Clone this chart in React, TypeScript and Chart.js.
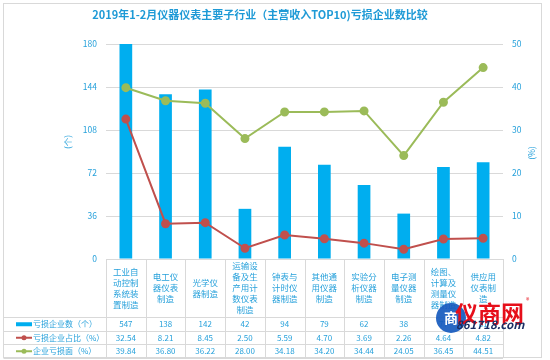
import React, { useEffect, useRef } from "react";
import { Chart, registerables } from "chart.js";

Chart.register(...registerables);

const TITLE = "2019年1-2月仪器仪表主要子行业（主营收入TOP10)亏损企业数比较";
const categories = [
  "工业自动控制系统装置制造",
  "电工仪器仪表制造",
  "光学仪器制造",
  "运输设备及生产用计数仪表制造",
  "钟表与计时仪器制造",
  "其他通用仪器制造",
  "实验分析仪器制造",
  "电子测量仪器制造",
  "绘图、计算及测量仪器制造",
  "供应用仪表制造",
];
const seriesNames = ["亏损企业数（个）", "亏损企业占比（%）", "企业亏损面（%）"];
const lossCount = [547, 138, 142, 42, 94, 79, 62, 38, 77, 81];
const lossShare = [32.54, 8.21, 8.45, 2.5, 5.59, 4.7, 3.69, 2.26, 4.64, 4.82];
const lossRate = [39.84, 36.8, 36.22, 28.0, 34.18, 34.2, 34.44, 24.05, 36.45, 44.51];
const leftTicks = [0, 36, 72, 108, 144, 180];
const rightTicks = [0, 10, 20, 30, 40, 50];
const leftAxisTitle = "(个)";
const rightAxisTitle = "(%)";

const FONT = '"Noto Sans CJK SC", "Noto Sans", sans-serif';
const BLUE_TEXT = "#27a1db";
const BAR = "#00aeef";
const RED = "#c0504d";
const GREEN = "#9bbb59";
const GRID = "#d9d9d9";

function wrap3(s: string): string[] {
  const out: string[] = [];
  const chars = Array.from(s);
  for (let i = 0; i < chars.length; i += 3) out.push(chars.slice(i, i + 3).join(""));
  return out;
}

const tablePlugin = {
  id: "dataTable",
  afterDraw(chart: any) {
    const ctx = chart.ctx as CanvasRenderingContext2D;
    const ca = chart.chartArea;
    const xs = chart.scales.x;
    const n = categories.length;
    const colW = (ca.right - ca.left) / n;
    const headTop = ca.bottom;
    const headBottom = 317;
    const rowH = 13.5;
    const tableBottom = headBottom + rowH * 3;
    ctx.save();
    ctx.strokeStyle = GRID;
    ctx.lineWidth = 1;
    ctx.strokeRect(3.5, 3.5, 538, 354);
    ctx.beginPath();
    for (let i = 0; i <= n; i++) {
      const x = Math.round(ca.left + i * colW) + 0.5;
      ctx.moveTo(x, headTop);
      ctx.lineTo(x, tableBottom);
    }
    for (let r = 0; r < 4; r++) {
      const y = Math.round(headBottom + r * rowH) + 0.5;
      ctx.moveTo(3.5, y);
      ctx.lineTo(ca.right, y);
    }
    ctx.stroke();

    ctx.fillStyle = BLUE_TEXT;
    ctx.textAlign = "center";
    ctx.textBaseline = "middle";
    ctx.font = `8.5px ${FONT}`;
    const midHead = (headTop + headBottom) / 2;
    categories.forEach((c, i) => {
      const lines = wrap3(c);
      const cx = xs.getPixelForValue(i);
      const lh = 11;
      const y0 = midHead - ((lines.length - 1) * lh) / 2;
      lines.forEach((ln, k) => ctx.fillText(ln, cx, y0 + k * lh));
    });

    const rows = [
      lossCount.map((v) => String(v)),
      lossShare.map((v) => v.toFixed(2)),
      lossRate.map((v) => v.toFixed(2)),
    ];
    ctx.font = `8px ${FONT}`;
    rows.forEach((vals, r) => {
      const cy = headBottom + rowH * r + rowH / 2 + 0.5;
      vals.forEach((v, i) => ctx.fillText(v, xs.getPixelForValue(i), cy));
    });

    ctx.textAlign = "left";
    ctx.font = `8px ${FONT}`;
    const colors = [BAR, RED, GREEN];
    seriesNames.forEach((name, r) => {
      const cy = headBottom + rowH * r + rowH / 2 + 0.5;
      if (r === 0) {
        ctx.fillStyle = BAR;
        ctx.fillRect(16, cy - 2, 16, 4);
      } else {
        ctx.strokeStyle = colors[r];
        ctx.lineWidth = 2;
        ctx.beginPath();
        ctx.moveTo(16, cy);
        ctx.lineTo(32, cy);
        ctx.stroke();
        ctx.fillStyle = colors[r];
        ctx.beginPath();
        ctx.arc(24, cy, 2.5, 0, Math.PI * 2);
        ctx.fill();
      }
      ctx.fillStyle = BLUE_TEXT;
      ctx.fillText(name, 33, cy);
    });

    ctx.textAlign = "center";
    ctx.font = `8.5px ${FONT}`;
    ctx.save();
    ctx.translate(68, 142);
    ctx.rotate(-Math.PI / 2);
    ctx.fillText(leftAxisTitle, 0, 0);
    ctx.restore();
    ctx.save();
    ctx.translate(532, 153);
    ctx.rotate(-Math.PI / 2);
    ctx.fillText(rightAxisTitle, 0, 0);
    ctx.restore();

    ctx.fillStyle = "#1e9ad6";
    ctx.font = `bold 11px ${FONT}`;
    ctx.fillText(TITLE, 260, 15);

    // watermark
    ctx.fillStyle = "rgba(22, 90, 190, 0.92)";
    ctx.beginPath();
    ctx.arc(451, 318, 15, 0, Math.PI * 2);
    ctx.fill();
    ctx.fillStyle = "#ffffff";
    ctx.font = `bold 14px ${FONT}`;
    ctx.fillText("商", 451, 318);
    ctx.fillStyle = "#e60f1a";
    ctx.font = `bold 23px ${FONT}`;
    ctx.textAlign = "left";
    ctx.fillText("仪商网", 455, 313);
    ctx.font = `7px ${FONT}`;
    ctx.fillText("®", 526, 300);
    ctx.fillStyle = "#1b2d63";
    ctx.font = `italic bold 11.5px ${FONT}`;
    ctx.fillText("861718.com", 456, 325);
    ctx.restore();
  },
};

export default function App() {
  const ref = useRef<HTMLCanvasElement | null>(null);
  useEffect(() => {
    if (!ref.current) return;
    Chart.defaults.font.family = FONT;
    const chart = new Chart(ref.current, {
      data: {
        labels: categories,
        datasets: [
          {
            type: "line",
            label: seriesNames[1],
            data: lossShare,
            yAxisID: "y1",
            borderColor: RED,
            backgroundColor: RED,
            pointBackgroundColor: RED,
            pointBorderColor: RED,
            borderWidth: 2,
            pointRadius: 3.5,
            tension: 0,
            order: 1,
          },
          {
            type: "line",
            label: seriesNames[2],
            data: lossRate,
            yAxisID: "y1",
            borderColor: GREEN,
            backgroundColor: GREEN,
            pointBackgroundColor: GREEN,
            pointBorderColor: GREEN,
            borderWidth: 2,
            pointRadius: 3.5,
            tension: 0,
            order: 2,
          },
          {
            type: "bar",
            label: seriesNames[0],
            data: lossCount,
            yAxisID: "y",
            backgroundColor: BAR,
            barPercentage: 0.8,
            categoryPercentage: 0.4,
            order: 3,
          },
        ],
      } as any,
      options: {
        responsive: false,
        animation: false,
        layout: { padding: { top: 44, left: 0, right: 0, bottom: 0 } },
        plugins: {
          legend: { display: false },
          tooltip: { enabled: false },
          title: { display: false },
        },
        scales: {
          x: {
            grid: { display: false },
            border: { display: false },
            ticks: { display: false },
            afterFit: (s: any) => {
              s.height = 101;
            },
          },
          y: {
            position: "left",
            min: leftTicks[0],
            max: leftTicks[leftTicks.length - 1],
            afterBuildTicks: (s: any) => {
              s.ticks = leftTicks.map((v) => ({ value: v }));
            },
            ticks: { color: BLUE_TEXT, font: { size: 8.5, family: FONT }, padding: 9 },
            grid: { color: GRID, drawTicks: false },
            border: { display: false },
            afterFit: (s: any) => {
              s.width = 106;
            },
          },
          y1: {
            position: "right",
            min: rightTicks[0],
            max: rightTicks[rightTicks.length - 1],
            afterBuildTicks: (s: any) => {
              s.ticks = rightTicks.map((v) => ({ value: v }));
            },
            ticks: { color: BLUE_TEXT, font: { size: 8.5, family: FONT }, padding: 9 },
            grid: { display: false, drawTicks: false },
            border: { display: false },
            afterFit: (s: any) => {
              s.width = 47;
            },
          },
        },
      } as any,
      plugins: [tablePlugin],
    });
    return () => chart.destroy();
  }, []);
  return (
    <div style={{ position: "fixed", left: 0, top: 0, width: 550, height: 360, background: "#fff" }}>
      <canvas ref={ref} width={550} height={360} style={{ display: "block", width: 550, height: 360 }} />
    </div>
  );
}
